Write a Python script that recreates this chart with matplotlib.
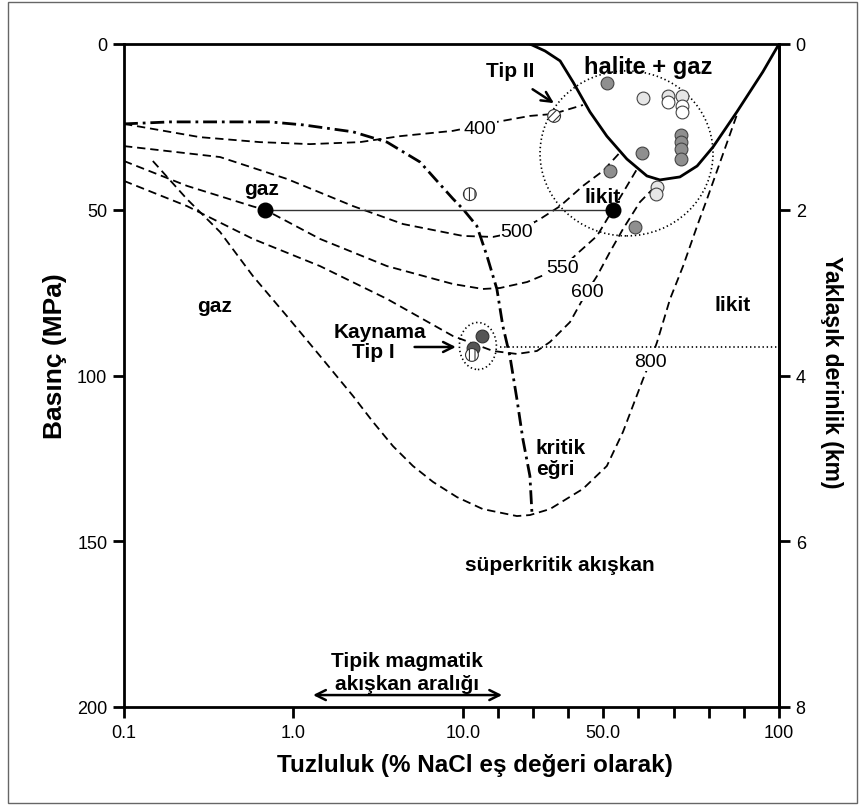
import numpy as np
import matplotlib
matplotlib.use('Agg')
import matplotlib.pyplot as plt
from matplotlib.patches import Ellipse, Rectangle

plt.rcParams['font.family'] = ['Liberation Sans', 'DejaVu Sans']
plt.rcParams['lines.scale_dashes'] = False
plt.rcParams['hatch.linewidth'] = 0.8

# ---------------- data (salinity wt% NaCl eq., pressure MPa) ----------------
halite_x = [29.1, 33.4, 37.7, 41.4, 46.2, 51.0, 56.7, 62.4, 66.1, 71.8, 76.7, 81.2, 88.0, 95.4, 100]
halite_p = [0, 2.1, 5.1, 11.5, 20.5, 27.8, 34.7, 39.8, 41.0, 40.1, 36.8, 31.1, 20.5, 8.4, 0]

critical_x = [0.1, 0.187, 0.369, 0.728, 1.14, 2.25, 3.57, 5.59, 8.75, 10.06, 14.0, 16.9,
              19.7, 21.4, 23.4, 25.4, 27.1, 29.1, 29.7]
critical_p = [24.1, 23.5, 23.5, 23.5, 24.4, 26.5, 29.6, 35.6, 46.7, 49.8, 54.9, 64.0,
              73.9, 85.1, 94.1, 107.1, 119.2, 130.3, 141.8]

iso400_x = [0.1, 0.281, 0.635, 1.25, 2.47, 4.26, 8.75, 19.7, 29.1, 35.7, 44.2]
iso400_p = [24.1, 28.1, 29.6, 30.2, 29.6, 27.8, 26.2, 23.5, 21.7, 21.1, 18.4]

iso500_x = [0.1, 0.369, 0.916, 2.25, 4.43, 8.75, 10.06, 18.6, 25.4, 32.0, 37.7, 44.2, 49.9, 54.5]
iso500_p = [30.8, 34.1, 40.7, 48.9, 54.3, 57.3, 57.9, 58.2, 56.7, 52.8, 48.9, 42.8, 38.3, 33.0]

iso550_x = [0.1, 0.2355, 0.577, 0.68, 1.436, 3.57, 8.75, 15.7, 20.6, 28.3, 38.5, 42.5, 48.2, 52.7, 59.6]
iso550_p = [35.3, 42.8, 49.0, 50.0, 58.8, 67.0, 72.4, 73.9, 73.6, 71.8, 67.3, 63.3, 57.9, 50.0, 37.7]

iso600_x = [0.1, 0.2355, 0.577, 1.436, 3.57, 8.75, 18.6, 25.4, 31.1, 34.8, 40.5, 45.3, 48.2,
            51.9, 55.6, 60.4, 64.1]
iso600_p = [41.3, 48.9, 58.8, 67.0, 76.9, 88.1, 92.6, 93.5, 92.6, 89.9, 83.9, 74.8, 70.0,
            62.7, 55.8, 47.7, 43.7]

iso800_x = [0.148, 0.2355, 0.369, 0.577, 0.916, 1.436, 2.25, 2.95, 3.87, 5.08, 6.67, 9.25,
            15.7, 25.4, 29.1, 34.8, 44.2, 51.0, 55.6, 61.3, 63.3, 65.3, 69.0, 72.7, 76.7, 79.5, 88.3]
iso800_p = [35.3, 46.8, 56.7, 70.0, 82.1, 94.1, 106.2, 114.0, 121.3, 127.3, 132.1, 136.7,
            140.3, 142.4, 142.1, 140.3, 134.2, 127.3, 117.0, 101.1, 95.9, 89.9, 76.9, 67.0, 54.9, 46.8, 20.5]

tie_x = [0.68, 52.7]
tie_p = [50.0, 50.0]

boil_x = [20.6, 100]
boil_p = [91.4, 91.4]

iso_labels = ['400', '500', '550', '600', '800']
iso_label_x = [14.9, 25.4, 38.5, 45.3, 63.3]
iso_label_p = [25.6, 56.7, 67.3, 74.8, 95.9]

gray_x = [51.0, 61.0, 51.9, 72.1, 72.1, 72.1, 72.1, 59.0]
gray_p = [11.8, 32.9, 38.3, 27.5, 29.6, 31.7, 34.7, 55.2]
light_x = [61.3, 68.4, 72.4, 65.3, 65.0]
light_p = [16.3, 15.7, 15.7, 43.1, 45.3]
white_x = [68.4, 72.4, 72.4]
white_p = [17.5, 18.7, 20.5]
dark_x = [15.5, 12.9]
dark_p = [88.1, 91.7]
vhatch_x = [12.0, 12.6]
vhatch_p = [45.3, 93.8]
dhatch_x = [36.0]
dhatch_p = [21.7]
black_x = [0.68, 52.7]
black_p = [50.0, 50.0]

magma_range = [1.306, 21.2]
magma_p = 196.4

x_ticks = [0.1, 1, 10, 20, 30, 40, 50, 60, 70, 80, 90, 100]
x_ticklabels = ['0.1', '1.0', '10.0', '', '', '', '50.0', '', '', '', '', '100']
p_ticks = [0, 50, 100, 150, 200]
depth_ticks = [0, 2, 4, 6, 8]

# ---------------- scale: log up to 10, linear 10-100 ----------------
L = 316.2 / 169.4


def fwd(x):
    x = np.asarray(x, float)
    lo = np.log10(np.clip(x, 1e-12, None)) + 1
    hi = 2 + (x - 10) / 90 * L
    return np.where(x <= 10, lo, hi)


def inv(t):
    t = np.asarray(t, float)
    return np.where(t <= 2, 10 ** (np.minimum(t, 2) - 1), 10 + (t - 2) / L * 90)


W, H = 865, 812
fig = plt.figure(figsize=(W / 100, H / 100), dpi=100)
ax = fig.add_axes([124 / W, 1 - 708 / H, 655 / W, 663 / H])
ax.set_xscale('function', functions=(fwd, inv))
ax.set_xlim(0.1, 100)
ax.set_ylim(200, 0)

for s in ax.spines.values():
    s.set_linewidth(2.0)

dash = (0, (6, 3.5))
dashdot = (0, (10, 3.5, 2, 3.5))
dot = (0, (1, 2))

ax.plot(halite_x, halite_p, color='black', lw=2.0, solid_capstyle='round')
ax.plot(critical_x, critical_p, color='black', lw=2.0, ls=dashdot)
for xs, ps in [(iso400_x, iso400_p), (iso500_x, iso500_p), (iso550_x, iso550_p),
               (iso600_x, iso600_p), (iso800_x, iso800_p)]:
    ax.plot(xs, ps, color='black', lw=1.3, ls=dash)
ax.plot(tie_x, tie_p, color='#333333', lw=1.0)
ax.plot(boil_x, boil_p, color='black', lw=1.2, ls=dot)

for t, x, p in zip(iso_labels, iso_label_x, iso_label_p):
    ax.text(x, p, t, fontsize=14, ha='center', va='center',
            bbox=dict(boxstyle='square,pad=0.05', fc='white', ec='none'))

# dotted ellipses (drawn in axes coordinates)
t0, t1 = fwd(0.1), fwd(100)


def ax_xy(x, p):
    return ((float(fwd(x)) - t0) / (t1 - t0), 1 - p / 200)


ax.add_patch(Ellipse(ax_xy(56.6, 33.0), 173 / 655, 165 / 663, transform=ax.transAxes,
                     fill=False, ec='black', lw=1.2, ls=dot))
ax.add_patch(Ellipse(ax_xy(14.3, 91.1), 37 / 655, 47 / 663, transform=ax.transAxes,
                     fill=False, ec='black', lw=1.2, ls=dot))

ms = 85
ax.scatter(gray_x, gray_p, s=ms, c='#8f8f8f', edgecolors='#444444', linewidths=0.8, zorder=5)
ax.scatter(light_x, light_p, s=ms, c='#e6e6e6', edgecolors='#444444', linewidths=0.8, zorder=5)
ax.scatter(white_x, white_p, s=ms, c='white', edgecolors='#444444', linewidths=0.8, zorder=6)
ax.scatter(dark_x, dark_p, s=ms, c='#555555', edgecolors='#333333', linewidths=0.8, zorder=5)
ax.scatter(vhatch_x, vhatch_p, s=ms, c='white', edgecolors='#333333', linewidths=0.8,
           hatch='|||', zorder=6)
ax.scatter(dhatch_x, dhatch_p, s=ms, c='white', edgecolors='#333333', linewidths=0.8,
           hatch='////', zorder=6)
ax.plot(black_x, black_p, 'o', ms=10.5, color='black', zorder=7)

# annotations
bold = dict(fontweight='bold', fontsize=15)
ax.text(62.7, 6.9, 'halite + gaz', ha='center', va='center', fontweight='bold', fontsize=17)
ax.text(23.5, 8.1, 'Tip II', ha='center', va='center', **bold)
ax.annotate('', xy=(36.6, 18.3), xytext=(29.2, 13.2),
            arrowprops=dict(arrowstyle='->', lw=1.8, color='black', mutation_scale=18))
ax.text(0.653, 43.7, 'gaz', ha='center', va='center', **bold)
ax.text(49.9, 45.9, 'likit', ha='center', va='center', **bold)
ax.text(0.344, 79.0, 'gaz', ha='center', va='center', **bold)
ax.text(3.24, 86.6, 'Kaynama', ha='center', va='center', **bold)
ax.text(2.95, 92.9, 'Tip I', ha='center', va='center', **bold)
ax.annotate('', xy=(9.45, 91.4), xytext=(5.0, 91.4),
            arrowprops=dict(arrowstyle='->', lw=1.8, color='black', mutation_scale=18))
ax.text(86.9, 78.7, 'likit', ha='center', va='center', **bold)
ax.text(30.8, 121.6, 'kritik', ha='left', va='center', **bold)
ax.text(30.8, 128.2, 'eğri', ha='left', va='center', **bold)
ax.text(37.7, 156.9, 'süperkritik akışkan', ha='center', va='center', **bold)
ax.text(4.68, 186.1, 'Tipik magmatik', ha='center', va='center', **bold)
ax.text(4.68, 192.8, 'akışkan aralığı', ha='center', va='center', **bold)
ax.annotate('', xy=(magma_range[0], magma_p), xytext=(magma_range[1], magma_p),
            arrowprops=dict(arrowstyle='<->', lw=1.8, color='black', mutation_scale=18,
                            shrinkA=0, shrinkB=0))

# ticks
ax.set_xticks(x_ticks)
ax.set_xticklabels(x_ticklabels)
ax.xaxis.set_minor_locator(matplotlib.ticker.NullLocator())
ax.set_yticks(p_ticks)
ax.set_yticklabels([str(v) for v in p_ticks])
ax.tick_params(axis='both', direction='out', length=8, width=2, labelsize=13, pad=4)
ax.tick_params(top=False)

sec = ax.secondary_yaxis('right', functions=(lambda p: p / 25, lambda d: d * 25))
sec.set_yticks(depth_ticks)
sec.set_yticklabels([str(v) for v in depth_ticks])
sec.tick_params(direction='out', length=8, width=2, labelsize=13, pad=4)
sec.spines['right'].set_linewidth(2.0)

fig.text(475 / W, 1 - 766 / H, 'Tuzluluk (% NaCl eş değeri olarak)', ha='center', va='center',
         fontweight='bold', fontsize=17.5)
fig.text(55 / W, 1 - 356 / H, 'Basınç (MPa)', ha='center', va='center', rotation=90,
         fontweight='bold', fontsize=19)
fig.text(831 / W, 1 - 372 / H, 'Yaklaşık derinlik (km)', ha='center', va='center', rotation=270,
         fontweight='bold', fontsize=16.5)

fig.patches.append(Rectangle((8 / W, 1 - 804 / H), 849 / W, 801 / H, transform=fig.transFigure,
                             fill=False, ec='#666666', lw=1.0))

fig.savefig('out.png', dpi=100)
